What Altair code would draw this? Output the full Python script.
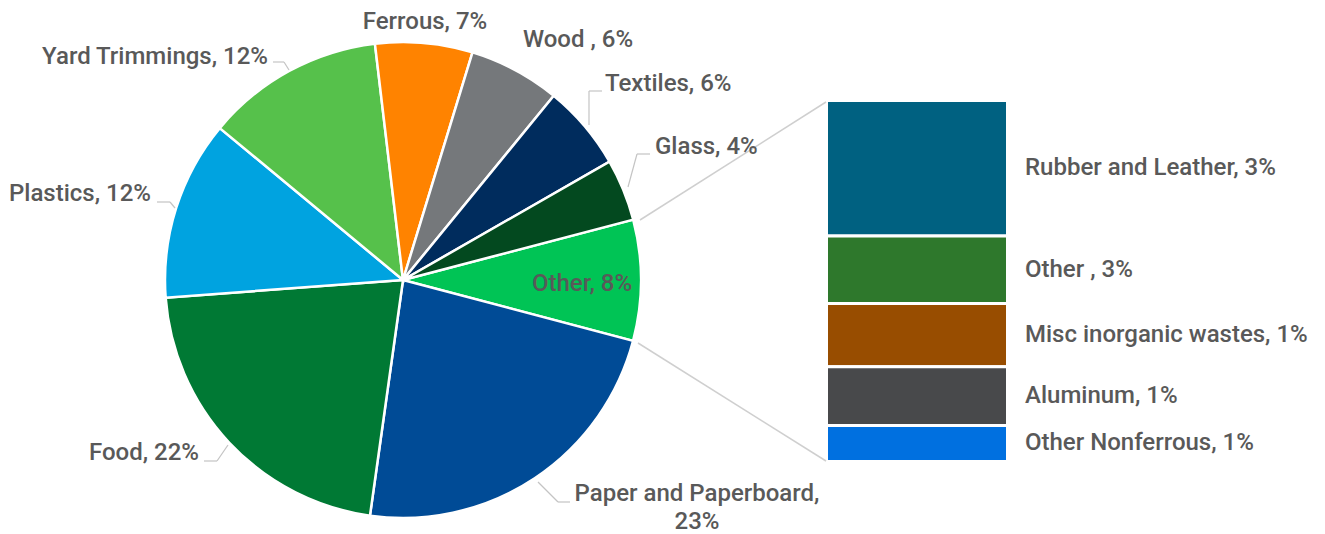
import math
import altair as alt
import pandas as pd

# ---- data ----
pie_names = ["Other", "Paper and Paperboard", "Food", "Plastics", "Yard Trimmings",
             "Ferrous", "Wood", "Textiles", "Glass"]
pie_values = [8.2, 23.1, 21.6, 12.2, 12.1, 6.6, 6.2, 5.8, 4.2]
pie_colors = ["#00c455", "#004b96", "#007934", "#00a3e0", "#56c14b",
              "#ff8300", "#75787b", "#002c5d", "#03491f"]

bar_names = ["Rubber and Leather", "Other (detail)", "Misc inorganic wastes", "Aluminum", "Other Nonferrous"]
bar_values = [3.0, 1.5, 1.4, 1.3, 0.8]
bar_labels = ["Rubber and Leather, 3%", "Other , 3%", "\u00a0\u00a0Misc inorganic wastes, 1%",
              "\u00a0Aluminum, 1%", "Other Nonferrous, 1%"]
bar_colors = ["#006181", "#2e782c", "#984d00", "#48494b", "#0070e0"]

# ---- layout (page px minus the 8px body margin) ----
M = 8
FONT = "Roboto"
FS = 24
FW = 500
TXT = "#595959"
CX, CY, R = 403 - M, 280 - M, 238
START = math.radians(75.3)

pie_df = pd.DataFrame({"name": pie_names, "value": pie_values, "idx": range(len(pie_names))})
bar_df = pd.DataFrame({"name": bar_names, "value": bar_values, "label": bar_labels,
                       "idx": range(len(bar_names))})
dummy = pd.DataFrame({"k": [0]})

pie = alt.Chart(pie_df).mark_arc(outerRadius=R, stroke="white", strokeWidth=2.5).encode(
    x=alt.value(CX), y=alt.value(CY),
    theta=alt.Theta("value:Q", stack=True, scale=alt.Scale(range=[START, START + 2 * math.pi])),
    order=alt.Order("idx:Q"),
    color=alt.Color("name:N", scale=alt.Scale(domain=pie_names, range=pie_colors), legend=None),
)

yscale = alt.Scale(domain=[0, 8], range=[460 - M + 1.5, 102 - M - 1.5])
bar_base = alt.Chart(bar_df).transform_stack(
    stack="value", groupby=[], as_=["y0", "y1"], sort=[alt.SortField("idx", order="descending")]
).transform_calculate(mid="(datum.y0 + datum.y1) / 2")

bar = bar_base.mark_bar(stroke="white", strokeWidth=3).encode(
    x=alt.value(828 - M - 1.5), x2=alt.value(1006 - M + 1.5),
    y=alt.Y("y0:Q", scale=yscale, axis=None), y2="y1:Q",
    color=alt.Color("name:N", scale=alt.Scale(domain=bar_names, range=bar_colors), legend=None),
)
bar_text = bar_base.mark_text(align="left", baseline="middle", font=FONT, fontSize=FS,
                              fontWeight=FW, color=TXT).encode(
    x=alt.value(1025 - M),
    y=alt.Y("mid:Q", scale=yscale, axis=None),
    text="label:N",
)

# pie labels (annotation positions)
pie_labels = [
    ("Yard Trimmings, 12%", 268, 57, "right"),
    ("Ferrous, 7%", 425, 22, "center"),
    ("Wood , 6%", 578, 40, "center"),
    ("Textiles, 6%", 605, 84, "left"),
    ("Glass, 4%", 655, 147, "left"),
    ("Other, 8%", 582, 284, "center"),
    ("Paper and Paperboard,", 697, 494, "center"),
    ("23%", 697, 522, "center"),
    ("Food, 22%", 199, 453, "right"),
    ("Plastics, 12%", 151, 194, "right"),
]
leader_segments = [
    (273, 62, 284, 62), (284, 62, 289, 70),
    (602, 91, 589, 91), (589, 91, 589, 125),
    (650, 154, 637, 154), (637, 154, 628, 187),
    (538, 482, 558, 502), (558, 502, 570, 502),
    (204, 461, 217, 461), (217, 461, 228, 445),
    (157, 202, 170, 202), (170, 202, 175, 208),
]
connectors = [(640, 220, 826, 102), (638, 343, 826, 461)]

layers = [pie, bar, bar_text]
for (a, b, c, d) in connectors:
    layers.append(alt.Chart(dummy).mark_rule(color="#cfcfcf", strokeWidth=1.5).encode(
        x=alt.value(a - M), y=alt.value(b - M), x2=alt.value(c - M), y2=alt.value(d - M)))
for (a, b, c, d) in leader_segments:
    layers.append(alt.Chart(dummy).mark_rule(color="#c4c4c4", strokeWidth=1.2).encode(
        x=alt.value(a - M), y=alt.value(b - M), x2=alt.value(c - M), y2=alt.value(d - M)))
for (t, a, b, al) in pie_labels:
    layers.append(alt.Chart(dummy).mark_text(text=t, align=al, baseline="middle", font=FONT,
                                             fontSize=FS, fontWeight=FW, color=TXT).encode(
        x=alt.value(a - M), y=alt.value(b - M)))

chart = alt.layer(*layers).resolve_scale(color="independent").properties(
    width=1309, height=526, padding=0, autosize=alt.AutoSizeParams(type="none")
).configure_view(stroke=None)

chart.save("out.html", embed_options={"renderer": "svg", "actions": False})
